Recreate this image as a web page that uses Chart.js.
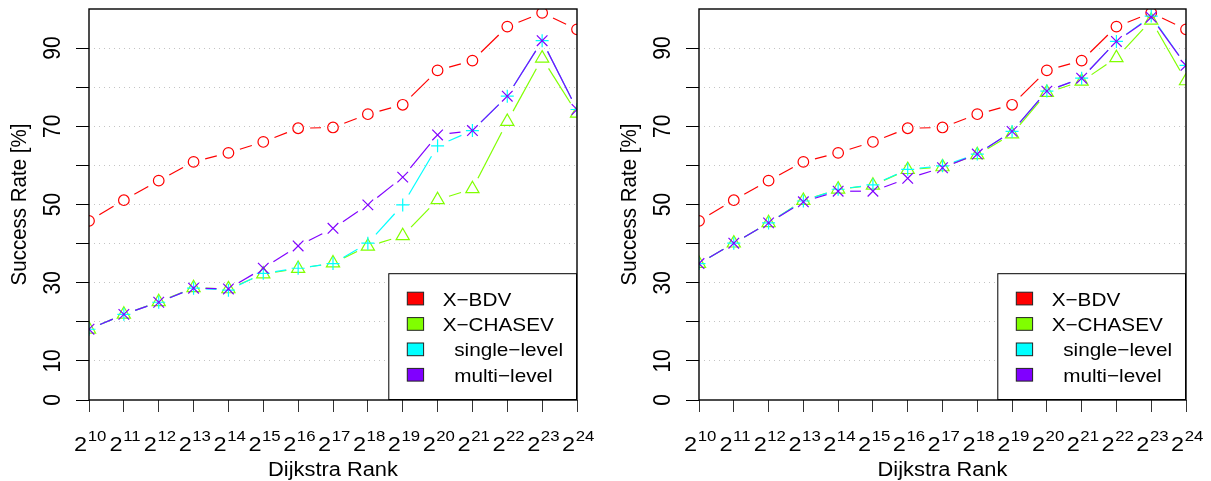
<!DOCTYPE html>
<html>
<head>
<meta charset="utf-8">
<script src="https://cdn.jsdelivr.net/npm/chart.js@4/dist/chart.umd.min.js"></script>
<style>
  html, body { margin: 0; padding: 0; background: #fff; }
  #wrap { position: relative; width: 1211px; height: 481px; overflow: hidden; background: #fff; }
  canvas { position: absolute; top: 0; }
</style>
</head>
<body>
<div id="wrap">
  <canvas id="left" width="605" height="481" style="left:0"></canvas>
  <canvas id="right" width="601" height="481" style="left:610px"></canvas>
</div>
<script>
/* Two panels: success rate vs Dijkstra rank, four methods each. */
const ranks = [10, 11, 12, 13, 14, 15, 16, 17, 18, 19, 20, 21, 22, 23, 24];
const yTickLabels = [0, 10, 30, 50, 70, 90];
const names = ["X\u2212BDV", "X\u2212CHASEV", "  single\u2212level", "  multi\u2212level"];

// left panel
const bdvLeft    = [45.8, 51.1, 56.1, 60.9, 63.2, 66.0, 69.5, 69.7, 73.1, 75.5, 84.3, 86.8, 95.5, 99.0, 94.8];
const chasevLeft = [18.1, 21.9, 25.1, 28.7, 28.4, 32.2, 33.6, 35.0, 39.3, 42.0, 51.2, 54.0, 71.2, 87.4, 73.3];
const singleLeft = [18.1, 21.9, 25.0, 28.6, 28.1, 32.4, 33.7, 34.9, 40.1, 49.9, 65.0, 68.9, 77.7, 91.9, 74.3];
const multiLeft  = [18.1, 21.9, 25.0, 28.6, 28.4, 33.7, 39.4, 43.9, 49.9, 57.0, 67.8, 68.9, 77.7, 91.9, 74.3];

// right panel
const bdvRight    = [45.8, 51.1, 56.1, 60.9, 63.2, 66.0, 69.5, 69.7, 73.1, 75.5, 84.3, 86.8, 95.5, 99.0, 94.8];
const chasevRight = [34.9, 40.1, 45.3, 51.0, 53.9, 54.9, 58.9, 59.6, 62.7, 68.0, 78.6, 81.5, 87.5, 97.1, 81.6];
const singleRight = [34.9, 40.1, 45.3, 50.9, 53.9, 55.0, 59.0, 59.9, 62.9, 68.7, 79.0, 82.3, 91.7, 98.2, 85.6];
const multiRight  = [34.9, 40.1, 45.3, 50.7, 53.4, 53.4, 56.7, 59.4, 62.9, 68.7, 79.0, 82.3, 91.7, 97.9, 85.6];

(function () {
  const colors = ["#FF0000", "#80FF00", "#00FFFF", "#8000FF"];
  const marks = ["circle", "triangle", "cross", "crossRot"];
  const markR = [5.3, 7.6, 6.5, 7.5];
  const FONT = '"Liberation Sans", Arial, Helvetica, sans-serif';
  const SX = 1.12; // text in the reference is slightly wider than tall
  const GAP = 12;  // R type="b": lines stop short of each point

  const gapDash = (c) => {
    const L = Math.hypot(c.p1.x - c.p0.x, c.p1.y - c.p0.y);
    return L > 2 * GAP ? [0, GAP, L - 2 * GAP, GAP] : [0, L];
  };

  function txt(ctx, s, x, y, size, align, rot) {
    ctx.save();
    ctx.translate(x, y); ctx.scale(SX, 1); if (rot) ctx.rotate(-Math.PI / 2);
    ctx.font = size + "px " + FONT; ctx.textAlign = align; ctx.textBaseline = "alphabetic"; ctx.fillStyle = "#000";
    ctx.fillText(s, 0, 0);
    ctx.restore();
  }

  const decor = {
    id: "decor",
    afterDatasetsDraw(chart) {
      const { ctx, chartArea: a, scales: { x, y } } = chart;
      // legend, bottom-right inside the plot
      const lw = 188.7, lh = 126.8, x0 = a.right - lw, y0 = a.bottom - lh;
      ctx.save();
      ctx.fillStyle = "#fff"; ctx.fillRect(x0, y0, lw, lh);
      ctx.strokeStyle = "#000"; ctx.lineWidth = 1; ctx.strokeRect(x0 + 0.5, y0 + 0.5, lw - 1, lh - 1);
      chart.data.datasets.forEach((ds, k) => {
        const cy = y0 + 25.3 + k * 25.4;
        ctx.fillStyle = ds.borderColor; ctx.fillRect(x0 + 19, cy - 6.3, 16.3, 12.7);
        ctx.strokeStyle = "#222"; ctx.lineWidth = 1; ctx.strokeRect(x0 + 19, cy - 6.3, 16.3, 12.7);
        txt(ctx, ds.label, x0 + 54.4, cy + 7, 18.5, "left");
      });
      // plot box
      ctx.strokeStyle = "#000"; ctx.lineWidth = 1.4;
      ctx.strokeRect(a.left, a.top, a.right - a.left, a.bottom - a.top);
      ctx.restore();

      // x tick labels: 2 with superscript exponent
      x.ticks.forEach((t, i) => {
        const px = x.getPixelForTick(i);
        ctx.save();
        ctx.font = "21px " + FONT; const wb = ctx.measureText("2").width * SX;
        ctx.font = "15px " + FONT; const we = ctx.measureText(String(ranks[i])).width * SX;
        ctx.restore();
        const start = px + 1 - (wb + we) / 2;
        txt(ctx, "2", start, 450.7, 21, "left");
        txt(ctx, String(ranks[i]), start + wb + 0.5, 440.7, 15, "left");
      });
      txt(ctx, "Dijkstra Rank", (a.left + a.right) / 2, 476, 19.5, "center");

      // y tick labels (rotated) and title
      yTickLabels.forEach((v) => txt(ctx, String(v), 60, y.getPixelForValue(v), 21, "center", true));
      txt(ctx, "Success Rate [%]", 26, (a.top + a.bottom) / 2, 20.5, "center", true);
    }
  };

  function panel(id, series, padRight) {
    new Chart(document.getElementById(id), {
      type: "line",
      data: {
        labels: ranks.map(String),
        datasets: series.map((d, k) => ({
          label: names[k], data: d,
          borderColor: colors[k], backgroundColor: "rgba(0,0,0,0)", borderWidth: 1.2,
          pointStyle: marks[k], pointRadius: markR[k], pointBorderWidth: 1.2,
          pointBorderColor: colors[k], pointBackgroundColor: "rgba(0,0,0,0)",
          tension: 0, order: 3 - k, clip: 0,
          segment: { borderDash: gapDash }
        }))
      },
      options: {
        responsive: false, animation: false, events: [],
        layout: { padding: { left: 0, top: 9, right: padRight, bottom: 0 } },
        plugins: { legend: { display: false }, tooltip: { enabled: false } },
        scales: {
          x: {
            type: "category", offset: false,
            ticks: { display: false, autoSkip: false },
            grid: { drawOnChartArea: false, drawTicks: true, tickLength: 12, tickColor: "#333", lineWidth: 1 },
            border: { display: false },
            afterFit: (s) => { s.height = 81; }
          },
          y: {
            min: 0, max: 100,
            ticks: { display: false, stepSize: 10 },
            afterBuildTicks: (s) => { s.ticks = s.ticks.filter((t) => t.value <= 90); },
            grid: {
              drawTicks: true, tickLength: 13, tickColor: "#000", lineWidth: 1,
              color: (c) => (c.tick && c.tick.value === 0 ? "rgba(0,0,0,0)" : "#c4c4c4"),
              tickBorderDash: []
            },
            border: { display: false, dash: [1, 4] },
            afterFit: (s) => { s.width = 89; }
          }
        }
      },
      plugins: [decor]
    });
  }

  panel("left", [bdvLeft, chasevLeft, singleLeft, multiLeft], 28);
  panel("right", [bdvRight, chasevRight, singleRight, multiRight], 25);
})();
</script>
</body>
</html>
